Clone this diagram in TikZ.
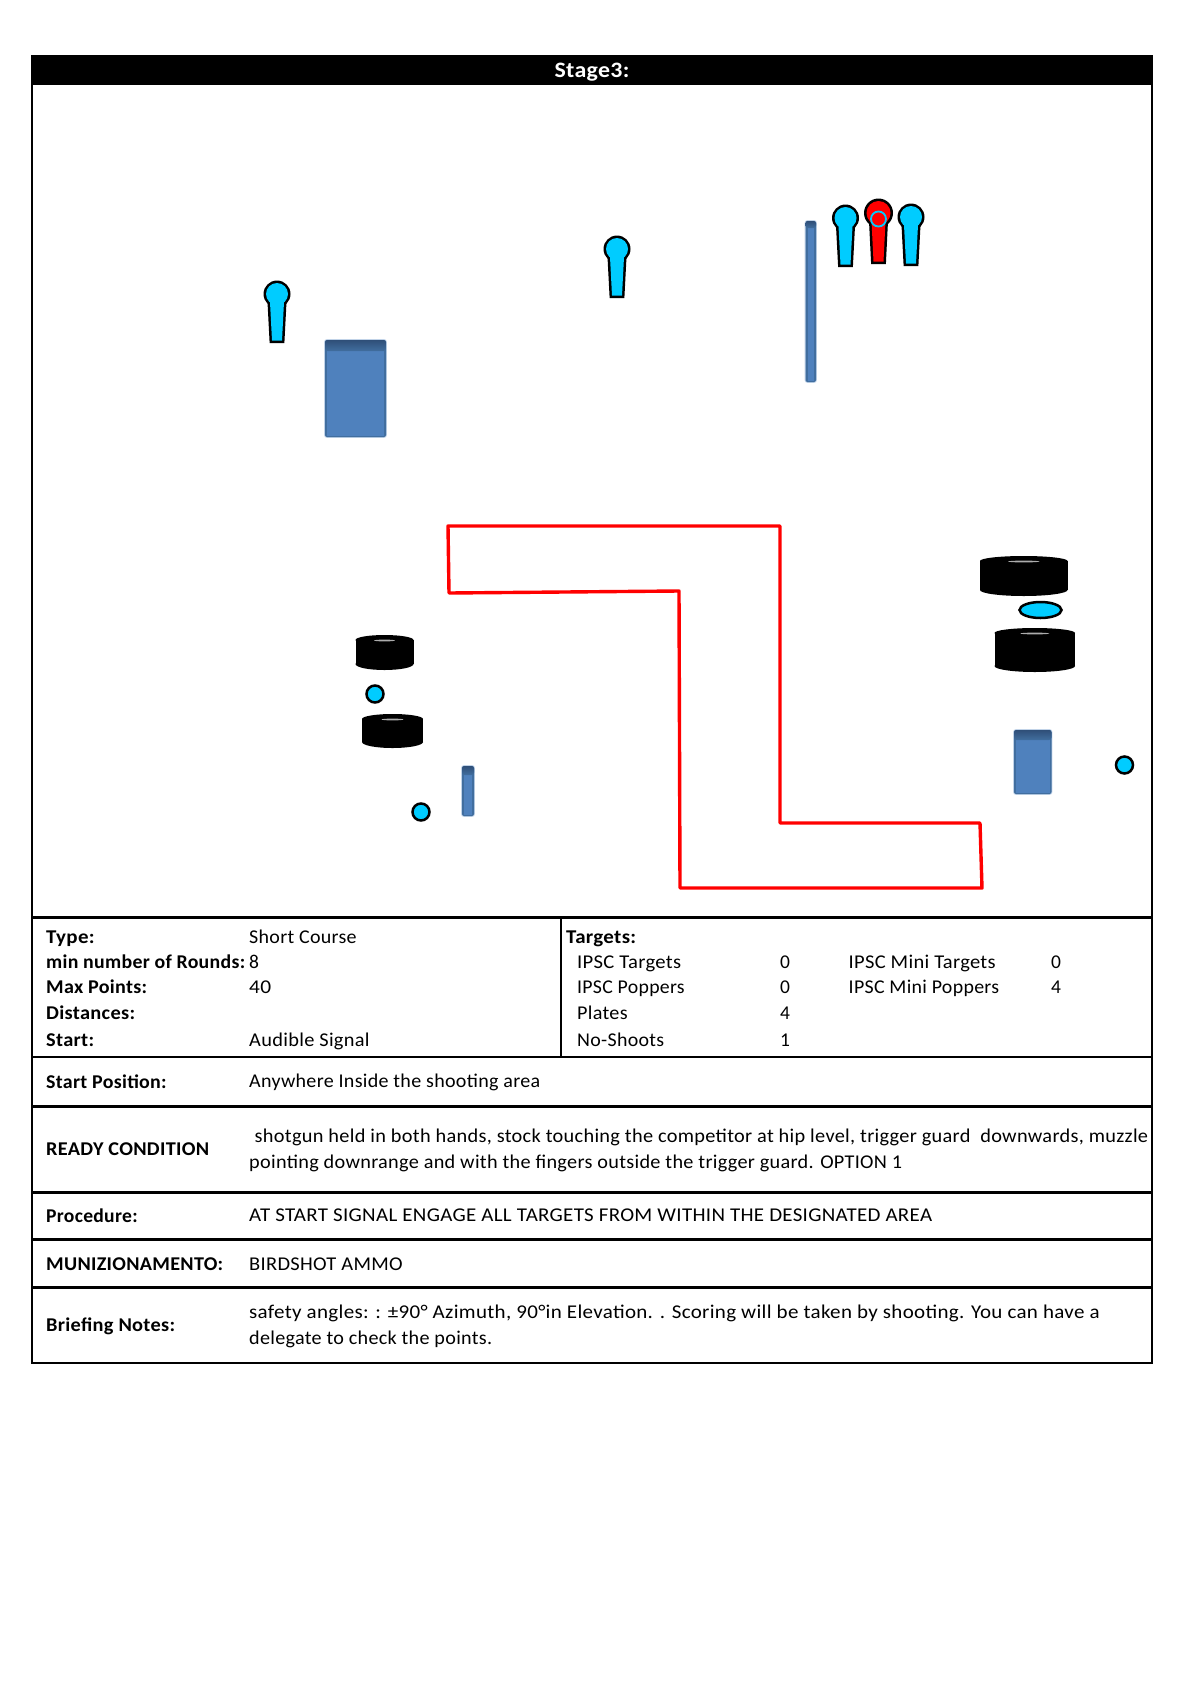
\documentclass[tikz,border=0pt]{standalone}
\usepackage{fontspec}
\usepackage{graphicx}
\setmainfont{Carlito}[LetterSpace=1.5]
\definecolor{popblue}{HTML}{00CCFF}
\definecolor{wallface}{HTML}{4F81BD}
\definecolor{walldark}{HTML}{2F4F78}
\definecolor{walledge}{HTML}{416E9F}
\tikzset{
  framel/.style={draw=black,line width=2.2pt},
  areal/.style={draw=red,line width=3.4pt,line join=round},
  txt/.style={anchor=base west,inner sep=0pt,font=\fontsize{19.5}{23}\selectfont,text=black},
  bold/.style={txt,font=\fontsize{19.5}{23}\selectfont\bfseries},
  disc/.style={draw=black,line width=2.5pt,fill=popblue}
}
\newcommand{\wfit}[2]{\resizebox{#1pt}{\height}{#2}}
\newcommand{\popperfig}[5]{%
  \fill[black] (#1,#2) circle[radius=#4+2];
  \draw[black,line width=5pt,line join=miter,fill=black] (#1-5,#3-2.5) -- (#1-7,#2+8) -- (#1+7,#2+8) -- (#1+5,#3-2.5) -- cycle;
  \fill[#5] (#1,#2) circle[radius=#4-0.5];
  \fill[#5] (#1-5,#3-2.5) -- (#1-7,#2+8) -- (#1+7,#2+8) -- (#1+5,#3-2.5) -- cycle;
}
\newcommand{\wallfig}[5]{%
  \fill[wallface!35,rounded corners=2.5pt] (#1-0.8,#2-0.8) rectangle (#3+0.8,#4+0.8);
  \fill[walledge,rounded corners=2pt] (#1,#2) rectangle (#3,#4);
  \fill[wallface] (#1+2,#2+#5) rectangle (#3-2,#4-1.5);
  \shade[top color=walldark,bottom color=walledge,rounded corners=2.5pt] (#1,#2) rectangle (#3,#2+#5+3);
}
\newcommand{\tirefig}[4]{%
  \fill[black] ({(#1+#3)/2},#2+5) ellipse[x radius={(#3-#1)/2},y radius=5];
  \fill[black] ({(#1+#3)/2},#4-6) ellipse[x radius={(#3-#1)/2},y radius=6];
  \fill[black] (#1,#2+5) rectangle (#3,#4-6);
  \fill[gray!65] ({(#1+#3)/2},#2+5.5) ellipse[x radius={(#3-#1)*0.18},y radius=0.9];
}
\begin{document}
\begin{tikzpicture}[x=1pt,y=-1pt]
\useasboundingbox (0,0) rectangle (1191,1684);
% frame
\fill[black] (32,56) rectangle (1152,85);
\node[anchor=base,inner sep=0pt,text=white,font=\fontsize{22}{25}\selectfont\bfseries] (title) at (592,77.5) {\wfit{75}{Stage3:}};
\draw[framel] (32,56) rectangle (1152,1363);
\draw[framel] (32,917.5) -- (1152,917.5);
\draw[framel] (32,1057) -- (1152,1057);
\draw[framel] (32,1106.5) -- (1152,1106.5);
\draw[framel] (32,1192.5) -- (1152,1192.5);
\draw[framel] (32,1239.5) -- (1152,1239.5);
\draw[framel] (32,1287.5) -- (1152,1287.5);
\draw[framel] (561,917.5) -- (561,1057);
% shooting area
\draw[areal] (448,526) -- (780,526) -- (780,823) -- (980,823) -- (982,888) -- (680,888) -- (679,591) -- (449,593) -- cycle;
% walls
\wallfig{325}{340}{386}{437}{8}
\wallfig{805.5}{221}{816}{382}{4}
\wallfig{462}{766}{474}{816}{6}
\wallfig{1014}{730}{1051.5}{794}{7}
% poppers
\popperfig{277}{294}{343}{11.5}{popblue}
\popperfig{617}{249}{298}{11.5}{popblue}
\popperfig{845.5}{218}{267}{11.5}{popblue}
\popperfig{878.5}{213}{264}{12.5}{red}
\popperfig{911}{217}{266}{11.5}{popblue}
\draw[popblue,line width=1.8pt] (878.5,219) circle[radius=7.5];
% barrels
\tirefig{980}{556}{1067.5}{596}
\tirefig{994.5}{628}{1075}{672}
\tirefig{355.5}{635}{413.5}{670}
\tirefig{362}{714}{423}{748}
% plates
\draw[disc] (1040.5,610) ellipse[x radius=21,y radius=8];
\draw[disc] (375,694) circle[radius=8.5];
\draw[disc] (421,812) circle[radius=8.5];
\draw[disc] (1124.5,765) circle[radius=8.5];
% info block
\node[bold] (l1) at (46,943) {\wfit{48.5}{Type:}};
\node[bold] (l2) at (46,968.5) {\wfit{199}{min number of Rounds:}};
\node[bold] (l3) at (46,993.5) {\wfit{101}{Max Points:}};
\node[bold] (l4) at (46,1019.5) {\wfit{89}{Distances:}};
\node[bold] (l5) at (46,1046) {\wfit{48}{Start:}};
\node[txt] (v1) at (249,943) {\wfit{107.5}{Short Course}};
\node[txt] (v2) at (249,968.5) {8};
\node[txt] (v3) at (249,993.5) {\wfit{22}{40}};
\node[txt] (v5) at (249,1046) {\wfit{120.5}{Audible Signal}};
\node[bold] (t0) at (566,943) {\wfit{70}{Targets:}};
\node[txt] (t1) at (577,968.5) {\wfit{104}{IPSC Targets}};
\node[txt] (t2) at (577,993.5) {\wfit{107.5}{IPSC Poppers}};
\node[txt] (t3) at (577,1019.5) {\wfit{50.5}{Plates}};
\node[txt] (t4) at (577,1046) {\wfit{87}{No-Shoots}};
\node[txt] (n1) at (780,968.5) {0};
\node[txt] (n2) at (780,993.5) {0};
\node[txt] (n3) at (780,1019.5) {4};
\node[txt] (n4) at (780,1046) {1};
\node[txt] (m1) at (848.5,968.5) {\wfit{147}{IPSC Mini Targets}};
\node[txt] (m2) at (848.5,993.5) {\wfit{150.5}{IPSC Mini Poppers}};
\node[txt] (k1) at (1051,968.5) {0};
\node[txt] (k2) at (1051,993.5) {4};
% rows
\node[bold] (r1) at (46,1088) {\wfit{120.5}{Start Position:}};
\node[txt] (r1v) at (249,1087) {\wfit{291}{Anywhere Inside the shooting area}};
\node[bold] (r2) at (46,1155.5) {\wfit{163}{READY CONDITION}};
\node[txt] (r2a) at (254.5,1142) {\wfit{893.5}{shotgun held in both hands, stock touching the competitor at hip level, trigger guard\ \ downwards, muzzle}};
\node[txt] (r2b) at (249,1168) {\wfit{653}{pointing downrange and with the fingers outside the trigger guard. OPTION 1}};
\node[bold] (r3) at (46,1222.5) {\wfit{91.5}{Procedure:}};
\node[txt] (r3v) at (249,1221) {\wfit{683}{AT START SIGNAL ENGAGE ALL TARGETS FROM WITHIN THE DESIGNATED AREA}};
\node[bold] (r4) at (46,1270) {\wfit{177}{MUNIZIONAMENTO:}};
\node[txt] (r4v) at (249,1270) {\wfit{153.5}{BIRDSHOT AMMO}};
\node[bold] (r5) at (46,1331.5) {\wfit{129}{Briefing Notes:}};
\node[txt] (r5a) at (249,1318) {\wfit{850.5}{safety angles: : ±90° Azimuth, 90°in Elevation. . Scoring will be taken by shooting. You can have a}};
\node[txt] (r5b) at (249,1344) {\wfit{243}{delegate to check the points.}};
\end{tikzpicture}
\end{document}
